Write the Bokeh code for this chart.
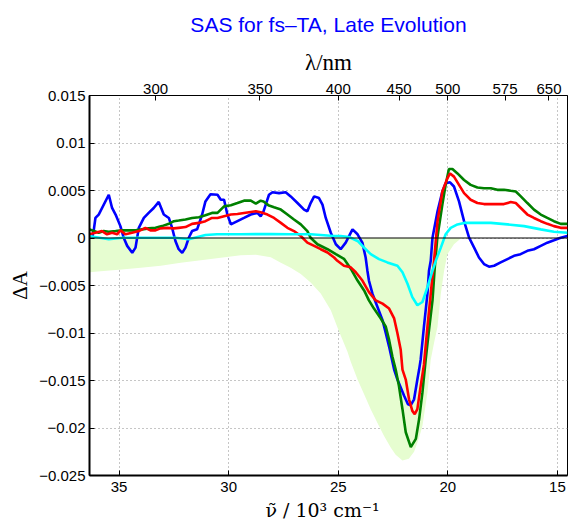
from bokeh.plotting import figure
from bokeh.models import (Range1d, LinearAxis, FixedTicker, CustomJSTickFormatter, Span)
from bokeh.embed import file_html
from bokeh.resources import INLINE

# ---- data (wavenumber in 10^3 cm^-1, Delta A) ----
blue_x = [36.22, 36.15, 36.08, 35.93, 35.47, 35.32, 35.16, 34.94, 34.79, 34.63, 34.40, 34.25, 34.10, 33.87,
          33.65, 33.42, 33.19, 32.96, 32.73, 32.58, 32.43, 32.28, 32.12, 31.97, 31.82, 31.67, 31.44, 31.21,
          31.06, 30.83, 30.51, 30.36, 30.21, 30.06, 29.90, 29.60, 29.30, 28.99, 28.69, 28.54, 28.41, 28.16,
          28.00, 27.70, 27.40, 27.17, 26.86, 26.56, 26.41, 26.26, 26.10, 25.88, 25.72, 25.57, 25.34, 25.11,
          24.89, 24.66, 24.35, 24.12, 23.90, 23.75, 23.67, 23.60, 23.44, 23.21, 22.98, 22.83, 22.68, 22.45,
          22.30, 21.99, 21.82, 21.69, 21.54, 21.39, 21.31, 21.24, 21.09, 20.93, 20.86, 20.78, 20.70, 20.47,
          20.25, 20.10, 19.90, 19.72, 19.49, 19.26, 19.03, 18.80, 18.58, 18.35, 18.12, 17.89, 17.59, 17.28,
          16.98, 16.68, 16.37, 16.07, 15.76, 15.46, 15.16, 14.85, 14.55]
blue_y = [0.00010, 0.00091, 0.00211, 0.00247, 0.00455, 0.00316, 0.00247, 0.00125, 0.00003, -0.00083, -0.00156,
          -0.00101, 0.00107, 0.00211, 0.00264, 0.00316, 0.00380, 0.00247, 0.00211, 0.00107, -0.00031, -0.00118,
          -0.00156, -0.00101, 0.00003, 0.00073, 0.00091, 0.00247, 0.00385, 0.00461, 0.00455, 0.00403, 0.00403,
          0.00247, 0.00143, 0.00177, 0.00211, 0.00247, 0.00264, 0.00229, 0.00281, 0.00455, 0.00482, 0.00472,
          0.00482, 0.00438, 0.00368, 0.00299, 0.00281, 0.00368, 0.00438, 0.00420, 0.00351, 0.00211, 0.00055,
          -0.00066, -0.00118, -0.00049, 0.00091, 0.00039, -0.00049, -0.00205, -0.00344, -0.00448, -0.00586,
          -0.00726, -0.00865, -0.01003, -0.01143, -0.01385, -0.01490, -0.01664, -0.01750, -0.01760, -0.01698,
          -0.01490, -0.01385, -0.01281, -0.00934, -0.00586, -0.00344, -0.00240, 0.00003, 0.00281, 0.00490,
          0.00576, 0.00586, 0.00542, 0.00385, 0.00177, 0.00003, -0.00101, -0.00205, -0.00274, -0.00302,
          -0.00292, -0.00257, -0.00222, -0.00188, -0.00170, -0.00135, -0.00118, -0.00083, -0.00049, -0.00024,
          0.00003, 0.00021]

green_x = [36.35, 36.15, 35.93, 35.70, 35.47, 35.16, 34.86, 34.56, 34.25, 33.95, 33.65, 33.34, 33.04, 32.73,
           32.50, 32.28, 31.97, 31.67, 31.36, 31.06, 30.76, 30.51, 30.21, 29.90, 29.60, 29.30, 28.99, 28.76,
           28.54, 28.41, 28.16, 27.93, 27.62, 27.32, 27.02, 26.71, 26.41, 26.26, 25.95, 25.49, 25.11, 24.74,
           24.43, 24.12, 23.82, 23.60, 23.37, 23.06, 22.83, 22.68, 22.53, 22.38, 22.23, 22.07, 21.92, 21.69,
           21.46, 21.31, 21.16, 21.01, 20.86, 20.70, 20.60, 20.48, 20.25, 20.10, 19.95, 19.79, 19.56, 19.26,
           18.96, 18.65, 18.35, 18.04, 17.74, 17.44, 17.13, 16.90, 16.67, 16.37, 16.07, 15.76, 15.46, 15.16,
           14.85, 14.54]
green_y = [0.00091, 0.00073, 0.00055, 0.00073, 0.00066, 0.00073, 0.00080, 0.00080, 0.00080, 0.00091, 0.00101,
           0.00107, 0.00125, 0.00149, 0.00177, 0.00184, 0.00195, 0.00211, 0.00219, 0.00240, 0.00264, 0.00264,
           0.00333, 0.00344, 0.00368, 0.00393, 0.00393, 0.00361, 0.00393, 0.00385, 0.00341, 0.00323, 0.00299,
           0.00247, 0.00195, 0.00143, 0.00073, 0.00003, -0.00066, -0.00118, -0.00170, -0.00219, -0.00323,
           -0.00448, -0.00552, -0.00656, -0.00743, -0.00847, -0.00934, -0.01073, -0.01247, -0.01385, -0.01559,
           -0.01802, -0.02045, -0.02201, -0.02115, -0.01906, -0.01628, -0.01281, -0.00969, -0.00656, -0.00323,
           0.00003, 0.00351, 0.00559, 0.00726, 0.00726, 0.00680, 0.00611, 0.00559, 0.00531, 0.00524, 0.00524,
           0.00507, 0.00507, 0.00497, 0.00490, 0.00438, 0.00368, 0.00299, 0.00247, 0.00211, 0.00177, 0.00149,
           0.00149]

red_x = [36.38, 36.08, 35.78, 35.55, 35.32, 35.09, 34.94, 34.71, 34.41, 34.10, 33.80, 33.57, 33.34, 33.11,
         32.81, 32.50, 32.28, 31.97, 31.67, 31.36, 31.06, 30.76, 30.51, 30.21, 29.90, 29.60, 29.30, 28.99,
         28.76, 28.54, 28.23, 27.93, 27.62, 27.32, 27.02, 26.71, 26.41, 26.10, 25.80, 25.49, 25.19, 25.04,
         24.74, 24.43, 24.20, 23.90, 23.60, 23.29, 22.98, 22.68, 22.45, 22.30, 22.15, 22.07, 21.92, 21.77,
         21.62, 21.51, 21.39, 21.24, 21.09, 20.93, 20.78, 20.63, 20.47, 20.25, 20.02, 19.90, 19.72, 19.49,
         19.26, 18.96, 18.65, 18.35, 18.04, 17.74, 17.44, 17.13, 16.90, 16.67, 16.37, 16.07, 15.76, 15.46,
         15.16, 14.85, 14.54]
red_y = [0.00039, 0.00055, 0.00073, 0.00039, 0.00055, 0.00039, 0.00080, 0.00039, 0.00055, 0.00073, 0.00107,
         0.00080, 0.00080, 0.00101, 0.00107, 0.00101, 0.00107, 0.00115, 0.00149, 0.00159, 0.00177, 0.00211,
         0.00211, 0.00229, 0.00247, 0.00253, 0.00264, 0.00274, 0.00281, 0.00271, 0.00247, 0.00211, 0.00159,
         0.00107, 0.00073, 0.00021, -0.00049, -0.00083, -0.00118, -0.00153, -0.00205, -0.00240, -0.00292,
         -0.00309, -0.00361, -0.00448, -0.00570, -0.00656, -0.00691, -0.00743, -0.00847, -0.01003, -0.01177,
         -0.01385, -0.01490, -0.01698, -0.01820, -0.01854, -0.01802, -0.01559, -0.01333, -0.00934, -0.00586,
         -0.00240, 0.00177, 0.00490, 0.00628, 0.00680, 0.00646, 0.00559, 0.00472, 0.00403, 0.00368, 0.00357,
         0.00357, 0.00357, 0.00357, 0.00378, 0.00368, 0.00316, 0.00247, 0.00211, 0.00177, 0.00149, 0.00125,
         0.00107, 0.00107]

cyan_x = [36.38, 35.47, 34.86, 34.10, 33.34, 32.43, 31.82, 31.06, 30.53, 29.45, 28.08, 27.17, 26.26, 25.19,
          24.89, 24.51, 24.12, 23.82, 23.52, 23.14, 22.76, 22.30, 22.07, 21.84, 21.62, 21.39, 21.16, 20.93,
          20.70, 20.55, 20.32, 20.10, 19.87, 19.56, 19.26, 18.80, 18.04, 17.28, 16.52, 15.76, 15.16, 14.54]
cyan_y = [0.00021, -0.00014, 0.00003, 0.00003, 0.00003, 0.00003, -0.00014, 0.00031, 0.00039, 0.00039, 0.00042,
          0.00039, 0.00039, 0.00021, 0.00021, 0.00010, -0.00031, -0.00101, -0.00170, -0.00222, -0.00257,
          -0.00292, -0.00361, -0.00482, -0.00622, -0.00708, -0.00674, -0.00518, -0.00344, -0.00240, -0.00101,
          0.00039, 0.00107, 0.00143, 0.00159, 0.00159, 0.00159, 0.00143, 0.00125, 0.00091, 0.00066, 0.00055]

# inverted ground-state absorption (shaded area)
gsb_x = [36.35, 35.84, 35.01, 34.01, 33.10, 32.19, 31.27, 30.36, 29.45, 28.76, 28.08, 27.62, 27.17, 26.71,
         26.26, 25.80, 25.34, 24.99, 24.58, 24.43, 24.12, 23.82, 23.52, 23.21, 22.91, 22.60, 22.38, 22.07,
         21.78, 21.54, 21.33, 21.16, 20.93, 20.78, 20.63, 20.47, 20.32, 20.17, 20.02, 19.72, 19.41, 19.18, 14.54]
gsb_y = [-0.00361, -0.00349, -0.00333, -0.00313, -0.00292, -0.00260, -0.00234, -0.00208, -0.00182, -0.00177,
         -0.00203, -0.00260, -0.00313, -0.00378, -0.00469, -0.00583, -0.00760, -0.00969, -0.01198, -0.01302,
         -0.01490, -0.01646, -0.01802, -0.01948, -0.02083, -0.02208, -0.02281, -0.02341, -0.02323, -0.02250,
         -0.02115, -0.01979, -0.01625, -0.01281, -0.01104, -0.00934, -0.00586, -0.00344, -0.00170, -0.00066,
         -0.00005, 0.0, 0.0]

bottom_ticks = [35, 30, 25, 20, 15]
y_ticks = [-0.025, -0.02, -0.015, -0.01, -0.005, 0, 0.005, 0.01, 0.015]
top_ticks_nm = [300, 350, 400, 450, 500, 575, 650]

title_text = "SAS for fs\u2013TA, Late Evolution"
x_label = "\u03bd\u0303  /  10\u00b3 cm\u207b\u00b9"
y_label = "\u0394A"
top_label = "\u03bb/nm"

SANS = "Liberation Sans"
SERIF = "Liberation Serif"

p = figure(width=568, height=523,
           x_range=Range1d(36.35, 14.54), y_range=Range1d(-0.025, 0.015),
           output_backend="svg", toolbar_location=None,
           min_border_left=89, min_border_right=1, min_border_top=93, min_border_bottom=46)

p.background_fill_color = "white"
p.border_fill_color = "white"
p.outline_line_color = "black"
p.outline_line_width = 1

# shaded GSB
p.varea(x=gsb_x, y1=0, y2=gsb_y, fill_color="#e6fdd0", fill_alpha=1.0)

p.add_layout(Span(location=0, dimension="width", line_color="black", line_width=1))

lw = 2.6
p.line(blue_x, blue_y, line_color="#0000ff", line_width=lw)
p.line(green_x, green_y, line_color="#008000", line_width=lw)
p.line(red_x, red_y, line_color="#ff0000", line_width=lw)
p.line(cyan_x, cyan_y, line_color="#00ffff", line_width=lw)

# axes
xa = p.xaxis[0]
xa.ticker = FixedTicker(ticks=bottom_ticks)
xa.axis_label = x_label
ya = p.yaxis[0]
ya.ticker = FixedTicker(ticks=y_ticks)
ya.formatter = CustomJSTickFormatter(code="""
const v = Math.round(tick * 1000) / 1000;
if (v === 0) return '0';
return (v < 0 ? '\\u2212' : '') + String(Math.abs(v));
""")
ya.axis_label = y_label

top = LinearAxis(ticker=FixedTicker(ticks=[1e4 / nm for nm in top_ticks_nm]),
                 formatter=CustomJSTickFormatter(code="return String(Math.round(10000 / tick));"),
                 axis_label=top_label)
p.add_layout(top, "above")

for ax in [xa, ya, top]:
    ax.major_tick_in = 5
    ax.major_tick_out = 0
    ax.minor_tick_in = 0
    ax.minor_tick_out = 0
    ax.major_label_text_font = SANS
    ax.major_label_text_font_size = "15px"
    ax.major_label_text_color = "black"
    ax.axis_label_text_font = SERIF
    ax.axis_label_text_font_size = "21px"
    ax.axis_label_text_font_style = "normal"
    ax.axis_label_text_color = "black"
    ax.axis_line_color = "black"
    ax.major_tick_line_color = "black"

xa.axis_label_text_font = "DejaVu Serif"
xa.axis_label_text_font_size = "19px"
top.axis_label_text_font_size = "23px"
xa.axis_line_width = 2
ya.axis_line_width = 2
xa.major_label_standoff = 6
ya.major_label_standoff = 4
top.major_label_standoff = 2
xa.axis_label_standoff = 4
ya.axis_label_standoff = 4
top.axis_label_standoff = 6

# grid
p.xgrid.ticker = FixedTicker(ticks=bottom_ticks)
p.ygrid.ticker = FixedTicker(ticks=y_ticks)
for g in [p.xgrid[0], p.ygrid[0]]:
    g.grid_line_color = "#8c8c8c"
    g.grid_line_dash = "1 3"
    g.grid_line_width = 1

p.title.text = title_text
p.title.align = "center"
p.title.text_font = SANS
p.title.text_font_size = "21px"
p.title.text_font_style = "normal"
p.title.text_color = "#0000ff"
p.title.standoff = 21

open("out.html", "w").write(file_html(p, INLINE))
